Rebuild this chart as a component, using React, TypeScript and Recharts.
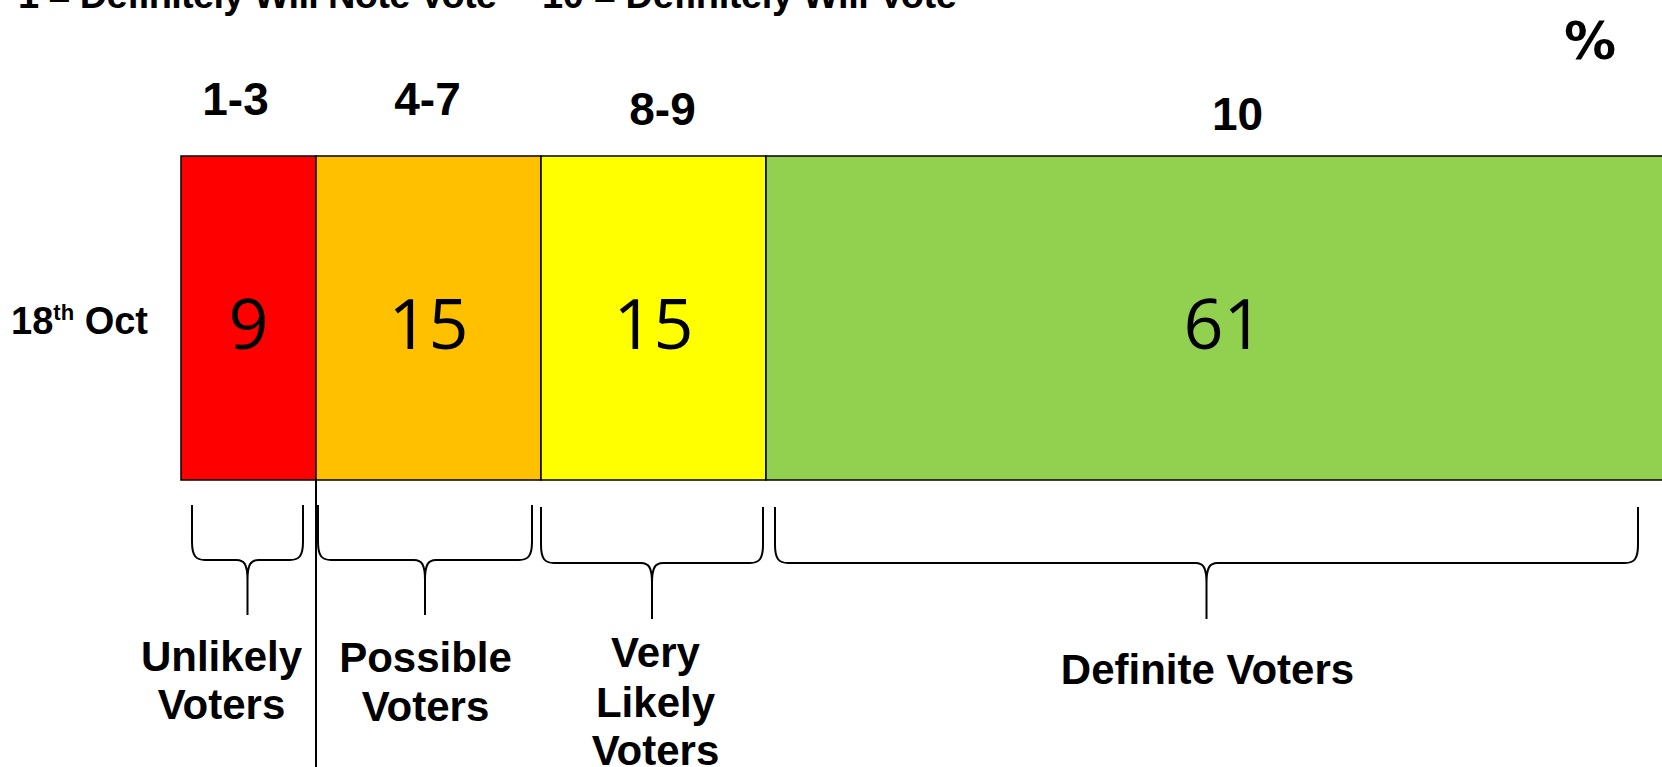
import React from "react";
import { BarChart, Bar, XAxis, YAxis, LabelList } from "recharts";

const categories = ["18th Oct"];
const seriesKeys = ["unlikely", "possible", "veryLikely", "definite"];
const seriesValues = [9, 15, 15, 61];
const scaleLabels = ["1-3", "4-7", "8-9", "10"];
const groupLabels = [
  ["Unlikely", "Voters"],
  ["Possible", "Voters"],
  ["Very", "Likely", "Voters"],
  ["Definite Voters"],
];

const colors = ["#FF0000", "#FFC000", "#FFFF00", "#92D050"];

// small per-segment nudges, measured off the slide
const scaleLabelPos = [
  { dx: -13, dy: -41 },
  { dx: -1, dy: -41 },
  { dx: 9, dy: -31 },
  { dx: 14, dy: -26 },
];
const braceGeom = [
  { l: 11, r: 13, top: 25, mid: 80, bottom: 135 },
  { l: 2, r: 9, top: 25, mid: 80, bottom: 135 },
  { l: 0, r: 3, top: 27, mid: 83, bottom: 139 },
  { l: 9, r: 43, top: 27, mid: 83, bottom: 139 },
];
const groupLabelPos = [
  { dx: -27, lines: [191, 239] },
  { dx: -3, lines: [192, 241] },
  { dx: 2, lines: [187, 237, 285] },
  { dx: -16, lines: [204] },
];

const data = categories.map((name) => {
  const row: Record<string, string | number> = { name };
  seriesKeys.forEach((k, i) => {
    row[k] = seriesValues[i];
  });
  return row;
});

const BOLD = "'Liberation Sans', Arial, sans-serif";

function rectOf(props: any) {
  const vb = props.viewBox || {};
  return {
    x: Number(props.x ?? vb.x),
    y: Number(props.y ?? vb.y),
    width: Number(props.width ?? vb.width),
    height: Number(props.height ?? vb.height),
  };
}

function bracePath(x1: number, x2: number, top: number, mid: number, bottom: number) {
  const r = 13;
  const tr = 11;
  const tip = (x1 + x2) / 2;
  return [
    `M${x1},${top}`,
    `L${x1},${mid - r * 1.4}`,
    `C${x1},${mid - r * 0.3} ${x1 + r * 0.3},${mid} ${x1 + r},${mid}`,
    `L${tip - tr},${mid}`,
    `C${tip - tr * 0.3},${mid} ${tip},${mid + tr * 0.4} ${tip},${mid + tr * 1.8}`,
    `L${tip},${bottom}`,
    `M${tip},${mid + tr * 1.8}`,
    `C${tip},${mid + tr * 0.4} ${tip + tr * 0.3},${mid} ${tip + tr},${mid}`,
    `L${x2 - r},${mid}`,
    `C${x2 - r * 0.3},${mid} ${x2},${mid - r * 0.3} ${x2},${mid - r * 1.4}`,
    `L${x2},${top}`,
  ].join(" ");
}

function makeSegmentDecor(i: number) {
  return (props: any) => {
    const { x, y, width, height } = rectOf(props);
    const cx = x + width / 2;
    const bottom = y + height;
    const b = braceGeom[i];
    const s = scaleLabelPos[i];
    const g = groupLabelPos[i];
    return (
      <g>
        <text
          x={cx}
          y={y + height / 2 + 31}
          textAnchor="middle"
          fontFamily="'Open Sans', sans-serif"
          fontSize={70}
          fill="#000"
        >
          {props.value}
        </text>
        <text
          x={cx + s.dx}
          y={y + s.dy}
          textAnchor="middle"
          fontFamily={BOLD}
          fontWeight="bold"
          fontSize={46}
          fill="#000"
        >
          {scaleLabels[i]}
        </text>
        <path
          d={bracePath(x + b.l, x + width - b.r, bottom + b.top, bottom + b.mid, bottom + b.bottom)}
          fill="none"
          stroke="#000"
          strokeWidth={2}
        />
        {groupLabels[i].map((line, j) => (
          <text
            key={j}
            x={cx + g.dx}
            y={bottom + g.lines[j]}
            textAnchor="middle"
            fontFamily={BOLD}
            fontWeight="bold"
            fontSize={42}
            fill="#000"
          >
            {line}
          </text>
        ))}
        {i === 0 && (
          <line x1={x + width} y1={bottom} x2={x + width} y2={767} stroke="#000" strokeWidth={2} />
        )}
      </g>
    );
  };
}

function DateTick(props: any) {
  const { y, payload } = props;
  const [num, rest] = String(payload.value).split("th");
  return (
    <text
      x={148}
      y={y + 16}
      textAnchor="end"
      fontFamily={BOLD}
      fontWeight="bold"
      fontSize={38}
      fill="#000"
    >
      <tspan>{num}</tspan>
      <tspan dy={-14} fontSize={22}>
        th
      </tspan>
      <tspan dy={14}>{rest}</tspan>
    </text>
  );
}

export default function App() {
  return (
    <div
      style={{
        position: "fixed",
        left: 0,
        top: 0,
        width: 1662,
        height: 767,
        overflow: "hidden",
        background: "#fff",
      }}
    >
      <BarChart
        width={1690}
        height={767}
        data={data}
        layout="vertical"
        margin={{ top: 100, right: 9, bottom: 231, left: 0 }}
        barCategoryGap="0%"
      >
        <XAxis type="number" domain={[0, 100]} hide />
        <YAxis
          type="category"
          dataKey="name"
          width={181}
          axisLine={false}
          tickLine={false}
          tick={<DateTick />}
        />
        {seriesKeys.map((k, i) => (
          <Bar
            key={k}
            dataKey={k}
            stackId="a"
            fill={colors[i]}
            stroke="#000"
            strokeWidth={1.5}
            barSize={324}
            isAnimationActive={false}
          >
            <LabelList dataKey={k} content={makeSegmentDecor(i)} />
          </Bar>
        ))}
      </BarChart>
      <svg
        width={1662}
        height={767}
        style={{ position: "absolute", left: 0, top: 0, pointerEvents: "none" }}
      >
        <text x={18} y={8} fontFamily={BOLD} fontWeight="bold" fontSize={38} textLength={479} fill="#000">
          1 = Definitely Will Note Vote
        </text>
        <text x={542} y={8} fontFamily={BOLD} fontWeight="bold" fontSize={38} textLength={415} fill="#000">
          10 = Definitely Will Vote
        </text>
        <text
          x={1590}
          y={59}
          textAnchor="middle"
          fontFamily="'DejaVu Sans', sans-serif"
          fontWeight="bold"
          fontSize={52}
          fill="#000"
        >
          %
        </text>
      </svg>
    </div>
  );
}
